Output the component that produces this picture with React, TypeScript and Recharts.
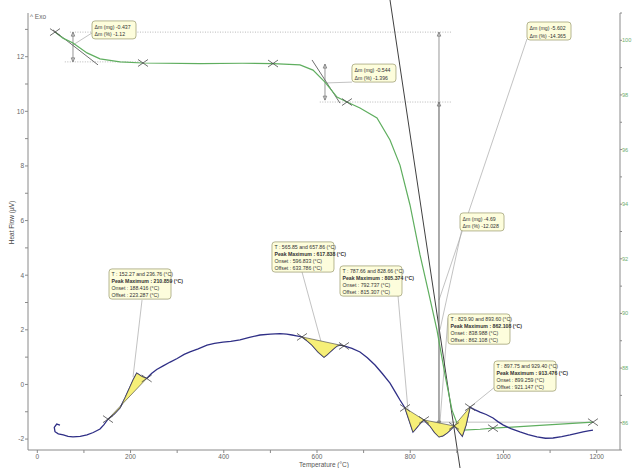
import React from 'react';
import { ComposedChart, Line, Scatter, XAxis, YAxis, ReferenceLine, Label } from 'recharts';

// ---------- axis ticks ----------
const xTicks = [0, 100, 200, 300, 400, 500, 600, 700, 800, 900, 1000, 1100, 1200];
const heatTicks = [-2, -1, 0, 1, 2, 3, 4, 5, 6, 7, 8, 9, 10, 11, 12, 13];
const massTicks = [85, 86, 87, 88, 89, 90, 91, 92, 93, 94, 95, 96, 97, 98, 99, 100, 101];

// ---------- DSC heat flow (µV) ----------
const dscCurve = [
  { t: 48.6, v: -1.49 }, { t: 41.6, v: -1.45 }, { t: 36.4, v: -1.57 }, { t: 37.9, v: -1.73 },
  { t: 45, v: -1.81 }, { t: 55.7, v: -1.85 }, { t: 66, v: -1.9 }, { t: 76.5, v: -1.92 },
  { t: 92, v: -1.9 }, { t: 106.6, v: -1.85 }, { t: 120, v: -1.76 }, { t: 134.5, v: -1.63 },
  { t: 143, v: -1.47 }, { t: 151.6, v: -1.27 }, { t: 165, v: -1.08 }, { t: 177.4, v: -0.86 },
  { t: 188, v: -0.5 }, { t: 198.8, v: -0.09 }, { t: 206, v: 0.18 }, { t: 213.2, v: 0.41 },
  { t: 218, v: 0.36 }, { t: 222.4, v: 0.31 }, { t: 228, v: 0.26 }, { t: 234.6, v: 0.22 },
  { t: 245, v: 0.4 }, { t: 256.1, v: 0.55 }, { t: 270, v: 0.68 }, { t: 285, v: 0.82 },
  { t: 300, v: 0.95 }, { t: 315, v: 1.1 }, { t: 327.5, v: 1.19 }, { t: 345, v: 1.3 },
  { t: 364, v: 1.44 }, { t: 380, v: 1.5 }, { t: 398.3, v: 1.55 }, { t: 415, v: 1.58 },
  { t: 434.8, v: 1.63 }, { t: 455, v: 1.72 }, { t: 477.7, v: 1.81 }, { t: 500, v: 1.84 },
  { t: 520.6, v: 1.86 }, { t: 535, v: 1.84 }, { t: 546.4, v: 1.81 }, { t: 556, v: 1.78 },
  { t: 567.8, v: 1.74 }, { t: 580, v: 1.58 }, { t: 589.3, v: 1.44 }, { t: 602.2, v: 1.19 },
  { t: 615, v: 1.0 }, { t: 621, v: 1.08 }, { t: 627.9, v: 1.19 }, { t: 635, v: 1.3 },
  { t: 642.9, v: 1.41 }, { t: 650, v: 1.44 }, { t: 657.9, v: 1.41 }, { t: 675, v: 1.32 },
  { t: 692.2, v: 1.19 }, { t: 708, v: 0.98 }, { t: 724.4, v: 0.71 }, { t: 740, v: 0.4 },
  { t: 756.6, v: 0.05 }, { t: 768, v: -0.28 }, { t: 778, v: -0.57 }, { t: 788.8, v: -0.86 },
  { t: 797.4, v: -1.3 }, { t: 805.9, v: -1.74 }, { t: 810, v: -1.66 }, { t: 816.7, v: -1.52 },
  { t: 823, v: -1.4 }, { t: 829.5, v: -1.3 }, { t: 835, v: -1.4 }, { t: 842.4, v: -1.52 },
  { t: 852, v: -1.75 }, { t: 861.7, v: -1.92 }, { t: 870, v: -1.88 }, { t: 878.9, v: -1.78 },
  { t: 887, v: -1.65 }, { t: 894, v: -1.52 }, { t: 899, v: -1.6 }, { t: 904.6, v: -1.74 },
  { t: 911.7, v: -1.89 }, { t: 915, v: -1.72 }, { t: 919.6, v: -1.49 }, { t: 924, v: -1.15 },
  { t: 928.2, v: -0.83 }, { t: 938, v: -0.92 }, { t: 949.7, v: -1.01 }, { t: 963, v: -1.1 },
  { t: 977.6, v: -1.23 }, { t: 988, v: -1.36 }, { t: 999, v: -1.48 }, { t: 1016, v: -1.62 },
  { t: 1035.5, v: -1.74 }, { t: 1053, v: -1.84 }, { t: 1072, v: -1.92 }, { t: 1090, v: -1.97 },
  { t: 1106.3, v: -1.96 }, { t: 1125, v: -1.91 }, { t: 1142.8, v: -1.85 }, { t: 1157, v: -1.79 },
  { t: 1170.7, v: -1.74 }, { t: 1182, v: -1.7 }, { t: 1192, v: -1.67 },
];

// ---------- TG mass (%) ----------
const tgCurve = [
  { t: 37.9, p: 100.3 }, { t: 55, p: 100.08 }, { t: 76.5, p: 99.9 }, { t: 106.6, p: 99.54 },
  { t: 134.5, p: 99.32 }, { t: 177.4, p: 99.21 }, { t: 226.7, p: 99.17 }, { t: 350, p: 99.15 },
  { t: 440, p: 99.16 }, { t: 505.6, p: 99.15 }, { t: 563.5, p: 99.1 }, { t: 591.4, p: 98.91 },
  { t: 617.1, p: 98.47 }, { t: 642.9, p: 97.92 }, { t: 664.3, p: 97.74 }, { t: 692.2, p: 97.52 },
  { t: 728.7, p: 97.16 }, { t: 756.6, p: 96.35 }, { t: 778, p: 95.43 }, { t: 799.5, p: 93.97 },
  { t: 821, p: 92.14 }, { t: 838.1, p: 90.86 }, { t: 857.4, p: 89.39 }, { t: 874.6, p: 87.75 },
  { t: 889.6, p: 86.46 }, { t: 902.5, p: 85.88 }, { t: 913.2, p: 85.73 }, { t: 950, p: 85.76 },
  { t: 977.5, p: 85.8 }, { t: 1078, p: 85.9 }, { t: 1192, p: 86.02 },
];

// ---------- integrated peaks (yellow) ----------
const peak1 = [
  { t: 151.6, v: -1.27 }, { t: 165, v: -1.08 }, { t: 177.4, v: -0.86 }, { t: 188, v: -0.5 },
  { t: 198.8, v: -0.09 }, { t: 206, v: 0.18 }, { t: 213.2, v: 0.41 }, { t: 218, v: 0.36 },
  { t: 222.4, v: 0.31 }, { t: 228, v: 0.26 }, { t: 234.6, v: 0.22 }, { t: 151.6, v: -1.27 },
];
const peak2 = [
  { t: 567.8, v: 1.74 }, { t: 580, v: 1.58 }, { t: 589.3, v: 1.44 }, { t: 602.2, v: 1.19 },
  { t: 615, v: 1.0 }, { t: 621, v: 1.08 }, { t: 627.9, v: 1.19 }, { t: 635, v: 1.3 },
  { t: 642.9, v: 1.41 }, { t: 650, v: 1.44 }, { t: 657.9, v: 1.41 }, { t: 567.8, v: 1.74 },
];
const peak3 = [
  { t: 788.8, v: -0.86 }, { t: 797.4, v: -1.3 }, { t: 805.9, v: -1.74 }, { t: 810, v: -1.66 },
  { t: 816.7, v: -1.52 }, { t: 823, v: -1.4 }, { t: 829.5, v: -1.3 }, { t: 788.8, v: -0.86 },
];
const peak4 = [
  { t: 829.5, v: -1.3 }, { t: 835, v: -1.4 }, { t: 842.4, v: -1.52 }, { t: 852, v: -1.75 },
  { t: 861.7, v: -1.92 }, { t: 870, v: -1.88 }, { t: 878.9, v: -1.78 }, { t: 887, v: -1.65 },
  { t: 894, v: -1.52 }, { t: 829.5, v: -1.3 },
];
const peak5 = [
  { t: 894, v: -1.52 }, { t: 899, v: -1.6 }, { t: 904.6, v: -1.74 }, { t: 911.7, v: -1.89 },
  { t: 915, v: -1.72 }, { t: 919.6, v: -1.49 }, { t: 924, v: -1.15 }, { t: 928.2, v: -0.83 },
  { t: 894, v: -1.52 },
];
const peaks = [peak1, peak2, peak3, peak4, peak5];

// ---------- markers ----------
const dscMarks = [
  { t: 151.6, v: -1.27 }, { t: 234.6, v: 0.22 }, { t: 567.8, v: 1.74 }, { t: 657.9, v: 1.41 },
  { t: 788.8, v: -0.86 }, { t: 829.5, v: -1.3 }, { t: 894, v: -1.52 }, { t: 928.2, v: -0.83 },
];
const tgMarks = [
  { t: 37.9, p: 100.3 }, { t: 226.7, p: 99.17 }, { t: 505.6, p: 99.15 }, { t: 664.3, p: 97.74 },
  { t: 977.5, p: 85.8 }, { t: 1192, p: 86.02 },
];

// ---------- construction lines (heat-flow units) ----------
const tangentLines = [
  [{ t: 33.6, v: 12.98 }, { t: 130.2, v: 11.7 }],
  [{ t: 589.3, v: 11.88 }, { t: 649.3, v: 10.3 }],
];
const mainTangent = [{ t: 756.6, v: 14.08 }, { t: 906.8, v: -3.06 }];
const levelLines = [
  [{ t: 70, v: 12.9 }, { t: 890, v: 12.9 }],
  [{ t: 59, v: 11.81 }, { t: 225, v: 11.81 }],
  [{ t: 606, v: 10.34 }, { t: 887, v: 10.34 }],
];
const finalLevel = [{ t: 799.5, v: -1.38 }, { t: 1192, v: -1.38 }];
const massArrows = [
  [{ t: 76.5, v: 12.9 }, { t: 76.5, v: 11.81 }],
  [{ t: 617.1, v: 11.73 }, { t: 617.1, v: 10.41 }],
  [{ t: 861.7, v: 12.9 }, { t: 861.7, v: -1.49 }],
  [{ t: 861.7, v: 10.34 }, { t: 861.7, v: -1.67 }],
];
const leaderLines = [
  [{ t: 76.5, v: 12.43 }, { t: 117.3, v: 12.87 }],
  [{ t: 621.4, v: 11.04 }, { t: 675, v: 11.07 }],
  [{ t: 1050.5, v: 12.65 }, { t: 861.7, v: 3.09 }],
  [{ t: 911, v: 5.69 }, { t: 863.8, v: 2.0 }],
  [{ t: 224.6, v: 3.09 }, { t: 205.3, v: 0.27 }],
  [{ t: 567.8, v: 4.12 }, { t: 610.7, v: 1.44 }],
  [{ t: 773.8, v: 3.24 }, { t: 795.2, v: -0.94 }],
  [{ t: 881, v: 2.43 }, { t: 863.8, v: -1.38 }],
  [{ t: 981.8, v: -0.09 }, { t: 928.2, v: -0.83 }],
];

// ---------- annotation texts (anchor = top-left corner) ----------
const massNotes = [
  { t: 117.3, v: 13.31, lines: ['Δm (mg) -0.437', 'Δm (%) -1.12'] },
  { t: 675, v: 11.73, lines: ['Δm (mg) -0.544', 'Δm (%) -1.396'] },
  { t: 1050.5, v: 13.27, lines: ['Δm (mg) -5.602', 'Δm (%) -14.365'] },
  { t: 906.8, v: 6.28, lines: ['Δm (mg) -4.69', 'Δm (%) -12.028'] },
];
const peakNotes = [
  { t: 153.8, v: 4.23, lines: ['T : 152.27 and 236.76 (°C)', 'Peak Maximum : 210.859 (°C)', 'Onset : 188.416 (°C)', 'Offset : 223.287 (°C)'] },
  { t: 503.4, v: 5.22, lines: ['T : 565.85 and 657.86 (°C)', 'Peak Maximum : 617.838 (°C)', 'Onset : 596.833 (°C)', 'Offset : 633.786 (°C)'] },
  { t: 649.3, v: 4.34, lines: ['T : 787.66 and 828.66 (°C)', 'Peak Maximum : 805.374 (°C)', 'Onset : 792.737 (°C)', 'Offset : 815.307 (°C)'] },
  { t: 881, v: 2.58, lines: ['T : 829.90 and 893.60 (°C)', 'Peak Maximum : 862.108 (°C)', 'Onset : 838.988 (°C)', 'Offset : 862.108 (°C)'] },
  { t: 979.7, v: 0.86, lines: ['T : 897.75 and 929.40 (°C)', 'Peak Maximum : 913.476 (°C)', 'Onset : 899.259 (°C)', 'Offset : 921.147 (°C)'] },
];

const FONT = '"Liberation Sans Narrow", "Liberation Sans", Arial, sans-serif';

const emptyShape = () => <g />;

const XMark = (props: any) => {
  const { cx, cy } = props;
  if (cx == null || cy == null) return <g />;
  return (
    <g stroke="#4a4a4a" strokeWidth={0.8}>
      <line x1={cx - 5} y1={cy - 3.5} x2={cx + 5} y2={cy + 3.5} />
      <line x1={cx - 5} y1={cy + 3.5} x2={cx + 5} y2={cy - 3.5} />
    </g>
  );
};

const makeNote = (width: number, lineH: number) => (props: any) => {
  const { cx, cy, payload } = props;
  if (cx == null || cy == null || !payload) return <g />;
  const lines: string[] = payload.lines;
  const h = lines.length * lineH + 3;
  return (
    <g>
      <rect x={cx} y={cy} width={width} height={h} rx={3} ry={3} fill="#fdfddc" stroke="#a3a37a" strokeWidth={0.8} />
      {lines.map((l, i) => (
        <text key={i} x={cx + 2.5} y={cy + 2 + lineH * (i + 0.8)} fontSize={5.2} fill="#333"
          fontWeight={i === 1 && lines.length > 2 ? 'bold' : 'normal'} fontFamily={FONT}>{l}</text>
      ))}
    </g>
  );
};
const MassNote = makeNote(44, 7.5);
const PeakNote = makeNote(62, 6.8);

const arrowShape = (props: any) => {
  const { x1, y1, x2, y2 } = props;
  const top = Math.min(y1, y2);
  const bot = Math.max(y1, y2);
  const s = 1.8;
  const h = 4;
  return (
    <g stroke="#6a6a6a" strokeWidth={0.7} fill="none">
      <line x1={x1} y1={top} x2={x2} y2={bot} />
      <polygon points={`${x1 - s},${top + h} ${x1},${top} ${x1 + s},${top + h}`} />
      <polygon points={`${x2 - s},${bot - h} ${x2},${bot} ${x2 + s},${bot - h}`} />
    </g>
  );
};

const renderHeatLabel = (props: any) => {
  const vb = props.viewBox || { x: 0, y: 0, width: 0, height: 0 };
  const cx = vb.x + 11;
  const cy = vb.y + vb.height / 2 - 9;
  return (
    <g>
      <text x={cx} y={cy} transform={`rotate(-90 ${cx} ${cy})`} textAnchor="middle" dominantBaseline="central"
        fontSize={6.5} fill="#444" fontFamily={FONT}>Heat Flow (µV)</text>
      <text x={vb.x + vb.width + 2} y={vb.y + 6} fontSize={6.5} fill="#666" fontFamily={FONT}>^ Exo</text>
    </g>
  );
};

const evenLabel = (v: number) => (Math.round(v) % 2 === 0 ? String(v) : '');
const xLabel = (v: number) => (v % 200 === 0 ? String(v) : '');

export default function App() {
  return (
    <div style={{ position: 'absolute', left: 0, top: 0, width: 633, height: 468, background: '#fff', fontFamily: FONT }}>
      <ComposedChart width={633} height={468} margin={{ top: 13, right: 0, bottom: 0, left: 0 }}>
        <XAxis dataKey="t" type="number" domain={[-20, 1250]} ticks={xTicks} interval={0} allowDataOverflow
          tickFormatter={xLabel} tickSize={3} tickMargin={1} height={18} stroke="#8a8a8a"
          tick={{ fontSize: 6.5, fill: '#666', fontFamily: FONT }}>
          <Label value="Temperature (°C)" position="insideBottom" offset={1} fontSize={6.5} fill="#555" fontFamily={FONT} />
        </XAxis>
        <YAxis yAxisId="l" orientation="left" type="number" domain={[-2.4, 13.6]} ticks={heatTicks} interval={0}
          allowDataOverflow tickFormatter={evenLabel} tickSize={3} tickMargin={1} width={28} stroke="#8a8a8a"
          tick={{ fontSize: 6.5, fill: '#666', fontFamily: FONT }}>
          <Label content={renderHeatLabel} />
        </YAxis>
        <YAxis yAxisId="r" orientation="right" type="number" domain={[85, 101]} ticks={massTicks} interval={0}
          allowDataOverflow tickFormatter={evenLabel} tickSize={2} tickMargin={0} width={13} stroke="#8a8a8a"
          tick={{ fontSize: 5.6, fill: '#6fae6f', fontFamily: FONT }} />

        {levelLines.map((seg, i) => (
          <ReferenceLine key={`lv${i}`} yAxisId="l" segment={seg.map((p) => ({ x: p.t, y: p.v }))}
            stroke="#9a9a9a" strokeWidth={0.7} strokeDasharray="1 1.5" ifOverflow="visible" />
        ))}
        <ReferenceLine yAxisId="l" segment={finalLevel.map((p) => ({ x: p.t, y: p.v }))}
          stroke="#b0b0b0" strokeWidth={0.8} ifOverflow="visible" />

        {peaks.map((pk, i) => (
          <Scatter key={`pk${i}`} yAxisId="l" data={pk} dataKey="v" shape={emptyShape}
            line={{ stroke: '#3a3a3a', strokeWidth: 0.6, fill: '#f6ef78' }} isAnimationActive={false} />
        ))}

        {leaderLines.map((seg, i) => (
          <ReferenceLine key={`ld${i}`} yAxisId="l" segment={seg.map((p) => ({ x: p.t, y: p.v }))}
            stroke="#a8a8a8" strokeWidth={0.7} ifOverflow="visible" />
        ))}
        {tangentLines.map((seg, i) => (
          <ReferenceLine key={`tg${i}`} yAxisId="l" segment={seg.map((p) => ({ x: p.t, y: p.v }))}
            stroke="#4a4a4a" strokeWidth={0.8} ifOverflow="visible" />
        ))}
        <ReferenceLine yAxisId="l" segment={mainTangent.map((p) => ({ x: p.t, y: p.v }))}
          stroke="#2a2a2a" strokeWidth={0.9} ifOverflow="visible" />
        {massArrows.map((seg, i) => (
          <ReferenceLine key={`ar${i}`} yAxisId="l" segment={seg.map((p) => ({ x: p.t, y: p.v }))}
            shape={arrowShape} ifOverflow="visible" />
        ))}

        <Line yAxisId="r" data={tgCurve} dataKey="p" type="linear" stroke="#5fae5f" strokeWidth={1.2}
          dot={false} isAnimationActive={false} />
        <Line yAxisId="l" data={dscCurve} dataKey="v" type="linear" stroke="#2f2f86" strokeWidth={1.3}
          dot={false} isAnimationActive={false} />

        <Scatter yAxisId="l" data={dscMarks} dataKey="v" shape={XMark} isAnimationActive={false} />
        <Scatter yAxisId="r" data={tgMarks} dataKey="p" shape={XMark} isAnimationActive={false} />

        <Scatter yAxisId="l" data={massNotes} dataKey="v" shape={MassNote} isAnimationActive={false} />
        <Scatter yAxisId="l" data={peakNotes} dataKey="v" shape={PeakNote} isAnimationActive={false} />
      </ComposedChart>
    </div>
  );
}
